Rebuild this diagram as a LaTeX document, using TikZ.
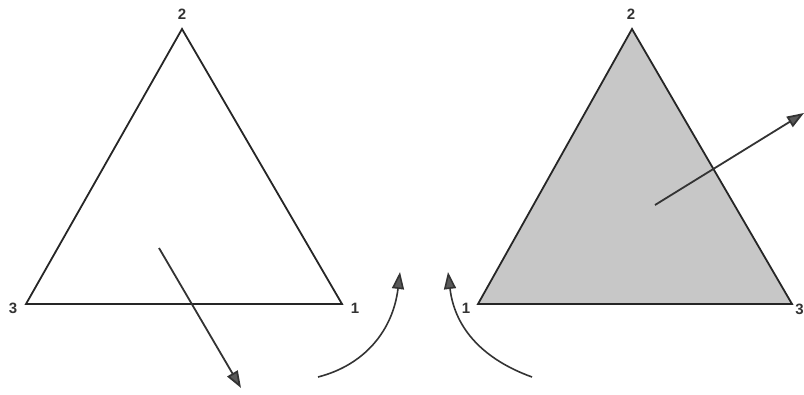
\documentclass[tikz,border=0pt]{standalone}
\usepackage{fontspec}
\setmainfont{Liberation Sans}
\usetikzlibrary{arrows.meta}
\begin{document}
\begin{tikzpicture}[x=1pt,y=-1pt,
  edge/.style={line width=1.8pt,black!85},
  vlabel/.style={font=\bfseries\fontsize{15}{15}\selectfont,text=black!80,inner sep=0pt},
  arr/.style={line width=1.8pt,black!80,-{Triangle[length=17pt,width=12pt,fill=black!65]}},
  carr/.style={line width=1.6pt,black!80,-{Triangle[length=17pt,width=12pt,fill=black!65]}}]
\useasboundingbox (0,0) rectangle (804,394);
% left triangle
\coordinate (L2) at (182,29);
\coordinate (L3) at (26,304);
\coordinate (L1) at (342,304);
\draw[edge,line join=miter] (L2) -- (L1) -- (L3) -- cycle;
\node[vlabel] (l2) at (182,14) {2};
\node[vlabel] (l3) at (13,308) {3};
\node[vlabel] (l1) at (355,308) {1};
\coordinate (La) at (159,248);
\coordinate (Lb) at (241,388);
\draw[arr] (La) -- (Lb);
% right triangle
\coordinate (R2) at (632,29);
\coordinate (R1) at (478,304);
\coordinate (R3) at (792,304);
\draw[edge,fill=black!22,line join=miter] (R2) -- (R3) -- (R1) -- cycle;
\node[vlabel] (r2) at (631,14) {2};
\node[vlabel] (r1) at (466,308) {1};
\node[vlabel] (r3) at (799.5,309) {3};
\coordinate (Ra) at (655,205);
\coordinate (Rb) at (804,113);
\draw[arr] (Ra) -- (Rb);
% curved arrows
\coordinate (Ca) at (318,377);
\coordinate (Cb) at (400,272);
\draw[carr] (Ca) .. controls (365,365) and (393,330) .. (Cb);
\coordinate (Da) at (532,377);
\coordinate (Db) at (448,272);
\draw[carr] (Da) .. controls (485,360) and (455,330) .. (Db);
\end{tikzpicture}
\end{document}
